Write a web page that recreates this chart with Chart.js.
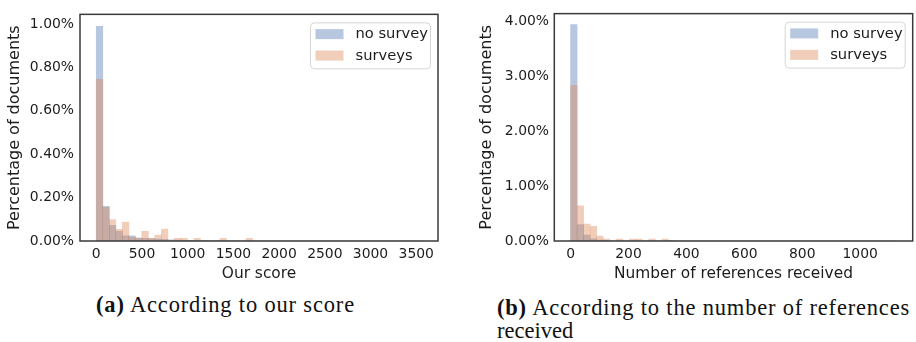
<!DOCTYPE html>
<html>
<head>
<meta charset="utf-8">
<script src="https://cdn.jsdelivr.net/npm/chart.js@4.4.1/dist/chart.umd.min.js"></script>
<style>
  html, body { margin: 0; padding: 0; background: #fff; }
  body { width: 916px; height: 342px; overflow: hidden; position: relative; }
  #w1 { position: absolute; left: 0; top: 0; width: 450px; height: 290px; }
  #w2 { position: absolute; left: 450px; top: 0; width: 466px; height: 290px; }
  .cap { position: absolute; font-family: "Liberation Serif", "Times New Roman", serif; font-size: 22.5px; color: #111; white-space: nowrap; line-height: 22px; }
  .cap b { font-weight: bold; }
</style>
</head>
<body>
<div id="w1"><canvas id="c1" width="450" height="290"></canvas></div>
<div id="w2"><canvas id="c2" width="466" height="290"></canvas></div>
<div class="cap" id="capA" style="left:96px; top:294px;"><b>(a)</b> According to our score</div>
<div class="cap" id="capB1" style="left:497px; top:297px;"><b>(b)</b> According to the number of references</div>
<div class="cap" id="capB2" style="left:497px; top:320px;">received</div>
<script>
// ---------------- DATA ----------------
const seriesNames = ['no survey', 'surveys'];

// Chart (a): histogram over "Our score", 50 bins from 0 to 3560
const scoreBinWidth = 71.2;
const scoreNoSurvey = [
  0.990, 0.160, 0.072, 0.045, 0.024, 0.024, 0.013, 0.012, 0.011, 0.009,
  0.008, 0.005, 0.004, 0.003, 0.003, 0.002, 0.002, 0.001, 0.001, 0.001,
  0.001, 0.001, 0.000, 0.000, 0.000, 0.000, 0.000, 0.000, 0.000, 0.000,
  0.000, 0.000, 0.000, 0.000, 0.000, 0.000, 0.000, 0.000, 0.000, 0.000,
  0.000, 0.000, 0.000, 0.000, 0.000, 0.000, 0.000, 0.000, 0.000, 0.000
];
const scoreSurveys = [
  0.745, 0.155, 0.099, 0.054, 0.087, 0.017, 0.013, 0.045, 0.012, 0.027,
  0.055, 0.000, 0.012, 0.012, 0.000, 0.012, 0.000, 0.000, 0.000, 0.012,
  0.000, 0.000, 0.000, 0.012, 0.000, 0.000, 0.000, 0.000, 0.000, 0.000,
  0.000, 0.000, 0.000, 0.000, 0.000, 0.000, 0.000, 0.000, 0.000, 0.000,
  0.000, 0.000, 0.000, 0.000, 0.000, 0.000, 0.000, 0.000, 0.000, 0.000
];
const scoreXTicks = [0, 500, 1000, 1500, 2000, 2500, 3000, 3500];
const scoreYTicks = [0, 0.2, 0.4, 0.6, 0.8, 1.0];

// Chart (b): histogram over "Number of references received", 50 bins from 0 to 1125
const refBinWidth = 22.5;
const refNoSurvey = [
  3.950, 0.300, 0.107, 0.040, 0.015, 0.008, 0.005, 0.004, 0.003, 0.002,
  0.002, 0.001, 0.001, 0.001, 0.001, 0.001, 0.000, 0.000, 0.000, 0.000,
  0.000, 0.000, 0.000, 0.000, 0.000, 0.000, 0.000, 0.000, 0.000, 0.000,
  0.000, 0.000, 0.000, 0.000, 0.000, 0.000, 0.000, 0.000, 0.000, 0.000,
  0.000, 0.000, 0.000, 0.000, 0.000, 0.000, 0.000, 0.000, 0.000, 0.000
];
const refSurveys = [
  2.840, 0.640, 0.310, 0.270, 0.090, 0.036, 0.000, 0.036, 0.000, 0.036,
  0.036, 0.000, 0.036, 0.000, 0.036, 0.000, 0.000, 0.000, 0.000, 0.000,
  0.000, 0.000, 0.000, 0.000, 0.000, 0.000, 0.000, 0.000, 0.000, 0.000,
  0.000, 0.000, 0.000, 0.000, 0.000, 0.000, 0.000, 0.000, 0.000, 0.000,
  0.000, 0.000, 0.000, 0.000, 0.000, 0.000, 0.000, 0.000, 0.000, 0.000
];
const refXTicks = [0, 200, 400, 600, 800, 1000];
const refYTicks = [0, 1, 2, 3, 4];

// ---------------- STYLE ----------------
const BLUE = 'rgba(76,114,176,0.4)';
const ORANGE = 'rgba(221,132,82,0.4)';
const TEXT = '#1c1c1c';
const FONT = '"DejaVu Sans", Verdana, sans-serif';

function toPoints(values, w) {
  return values.map((v, i) => ({ x: (i + 0.5) * w, y: v }));
}

const framePlugin = {
  id: 'frameLegend',
  afterDraw(chart) {
    const { ctx, chartArea: a } = chart;
    ctx.save();
    ctx.strokeStyle = '#3a3a3a';
    ctx.lineWidth = 1.5;
    ctx.strokeRect(a.left, a.top, a.right - a.left, a.bottom - a.top);
    const bw = 120, bh = 46;
    const bx = a.right - 8 - bw, by = a.top + 8;
    ctx.beginPath();
    if (ctx.roundRect) ctx.roundRect(bx + 0.5, by + 0.5, bw, bh, 4); else ctx.rect(bx + 0.5, by + 0.5, bw, bh);
    ctx.fillStyle = 'rgba(255,255,255,0.85)';
    ctx.fill();
    ctx.strokeStyle = '#d6d6d6';
    ctx.lineWidth = 1;
    ctx.stroke();
    const colors = [BLUE, ORANGE];
    const rows = [by + 11.8, by + 33.2];
    ctx.font = '14.7px ' + FONT;
    ctx.textBaseline = 'middle';
    ctx.textAlign = 'left';
    seriesNames.forEach((name, i) => {
      ctx.fillStyle = colors[i];
      ctx.fillRect(bx + 5.5, rows[i] - 5, 28, 10);
      ctx.fillStyle = TEXT;
      ctx.fillText(name, bx + 45.5, rows[i] + 0.5);
    });
    ctx.restore();
  }
};

function makeChart(id, cfg) {
  return new Chart(document.getElementById(id), {
    type: 'bar',
    data: {
      datasets: [
        { label: seriesNames[0], data: toPoints(cfg.noSurvey, cfg.binW), backgroundColor: BLUE,
          borderWidth: 0, barPercentage: 1, categoryPercentage: 1, grouped: false, order: 1 },
        { label: seriesNames[1], data: toPoints(cfg.surveys, cfg.binW), backgroundColor: ORANGE,
          borderWidth: 0, barPercentage: 1, categoryPercentage: 1, grouped: false, order: 0 }
      ]
    },
    options: {
      responsive: false,
      animation: false,
      events: [],
      layout: { padding: cfg.padding },
      plugins: { legend: { display: false }, tooltip: { enabled: false } },
      scales: {
        x: {
          type: 'linear',
          offset: false,
          min: cfg.xMin, max: cfg.xMax,
          grid: { display: false, drawTicks: false, offset: false },
          border: { display: false },
          afterBuildTicks: s => { s.ticks = cfg.xTicks.map(v => ({ value: v })); },
          afterFit: s => { s.height = 49; },
          ticks: { color: TEXT, font: { family: FONT, size: 13.9 }, padding: 5, maxRotation: 0, autoSkip: false,
                   callback: v => String(v) },
          title: { display: true, text: cfg.xTitle, color: TEXT, font: { family: FONT, size: 15.4 },
                   padding: { top: 0, bottom: 6.3 } }
        },
        y: {
          min: 0, max: cfg.yMax,
          grid: { display: false, drawTicks: false },
          border: { display: false },
          afterBuildTicks: s => { s.ticks = cfg.yTicks.map(v => ({ value: v })); },
          afterFit: s => { s.width = cfg.yWidth; },
          ticks: { color: TEXT, font: { family: FONT, size: 13.9 }, padding: cfg.yPad, autoSkip: false,
                   callback: v => v.toFixed(2) + '%' },
          title: { display: true, text: 'Percentage of documents', color: TEXT, font: { family: FONT, size: 16 },
                   padding: { top: cfg.yTitlePad, bottom: 0 } }
        }
      }
    },
    plugins: [framePlugin]
  });
}

makeChart('c1', {
  noSurvey: scoreNoSurvey, surveys: scoreSurveys, binW: scoreBinWidth,
  xMin: -178, xMax: 3738, yMax: 1.045,
  xTicks: scoreXTicks, yTicks: scoreYTicks,
  xTitle: 'Our score',
  padding: { top: 7, right: 12, left: 0, bottom: 0 },
  yWidth: 80, yPad: 6, yTitlePad: 5.4
});

makeChart('c2', {
  noSurvey: refNoSurvey, surveys: refSurveys, binW: refBinWidth,
  xMin: -56.25, xMax: 1181.25, yMax: 4.15,
  xTicks: refXTicks, yTicks: refYTicks,
  xTitle: 'Number of references received',
  padding: { top: 7, right: 3.3, left: 0, bottom: 0 },
  yWidth: 104.3, yPad: 5.3, yTitlePad: 27.1
});

function fitWidth(id, target) {
  const el = document.getElementById(id);
  const n = el.textContent.length;
  const w = el.getBoundingClientRect().width;
  el.style.letterSpacing = ((target - w) / n) + 'px';
}
fitWidth('capA', 259);
fitWidth('capB1', 413);
</script>
</body>
</html>
